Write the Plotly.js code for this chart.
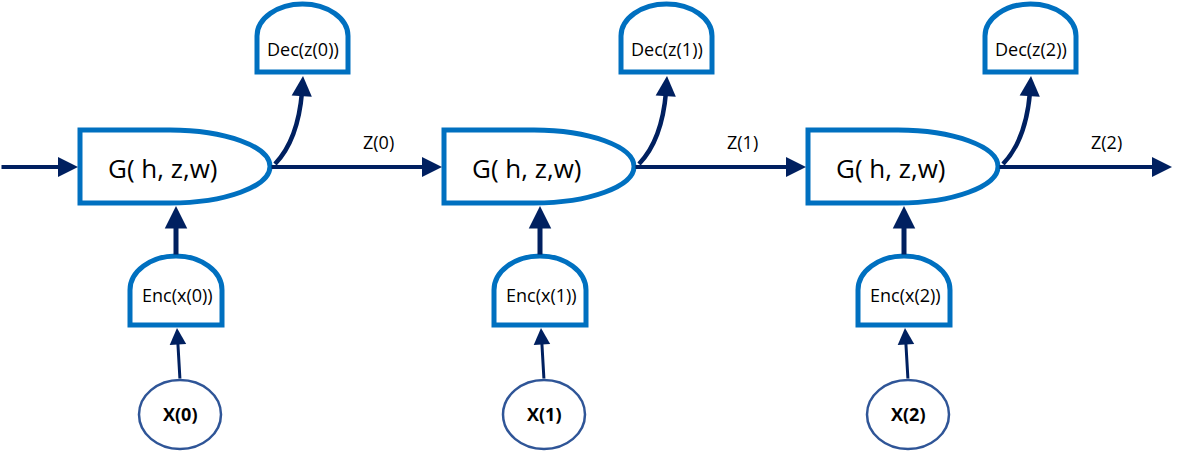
<!DOCTYPE html>
<html><head><meta charset="utf-8">
<script src="https://cdn.plot.ly/plotly-3.0.1.min.js"></script>
<style>html,body{margin:0;padding:0;background:#fff}#chart{width:1192px;height:451px}</style>
</head><body><div id="chart"></div>
<script>
/* diagram content */
const STEPS = [0, 1, 2];
const CELL_LABEL = 'G( h, z,w)';
const DEC_LABELS = ['Dec(z(0))', 'Dec(z(1))', 'Dec(z(2))'];
const ENC_LABELS = ['Enc(x(0))', 'Enc(x(1))', 'Enc(x(2))'];
const X_LABELS = ['X(0)', 'X(1)', 'X(2)'];
const Z_LABELS = ['Z(0)', 'Z(1)', 'Z(2)'];

const BOX = '#0070C0', ARROW = '#002060', CIRC = '#2F5597';
const STEP_W = 364;
const FONT = 'Open Sans, sans-serif';

const shapes = [], annotations = [];
function arrow(x0, y0, x1, y1, w, size) {
  annotations.push({ x: x1, y: y1, ax: x0, ay: y0, xref: 'x', yref: 'y', axref: 'x', ayref: 'y',
    text: '', showarrow: true, arrowhead: 2, arrowsize: size, arrowwidth: w, arrowcolor: ARROW });
}
function label(x, y, t, size, bold) {
  annotations.push({ x, y, xref: 'x', yref: 'y', text: bold ? '<b>' + t + '</b>' : t, showarrow: false,
    font: { family: FONT, size, color: '#000' } });
}
function dome(l, r, top, mid, bot) {
  const c = (l + r) / 2, k = 0.55;
  return `M ${l} ${bot} L ${l} ${mid} C ${l} ${mid - (mid - top) * k}, ${c - (c - l) * k} ${top}, ${c} ${top} ` +
         `C ${c + (r - c) * k} ${top}, ${r} ${mid - (mid - top) * k}, ${r} ${mid} L ${r} ${bot} Z`;
}

STEPS.forEach(i => {
  const o = i * STEP_W;
  // cell G
  const l = 80 + o, m = 170 + o, tip = 270 + o, t = 130, b = 203, cy = 166.5;
  shapes.push({ type: 'path', line: { color: BOX, width: 5 }, fillcolor: '#fff',
    path: `M ${l} ${t} L ${m} ${t} C ${m + 55} ${t}, ${tip} ${cy - 20}, ${tip} ${cy} C ${tip} ${cy + 20}, ${m + 55} ${b}, ${m} ${b} L ${l} ${b} Z` });
  label(162 + o, 168, CELL_LABEL, 26);
  // decoder
  shapes.push({ type: 'path', line: { color: BOX, width: 5 }, fillcolor: '#fff', path: dome(257 + o, 348 + o, 4, 36, 72) });
  label(303 + o, 49, DEC_LABELS[i], 18);
  // encoder
  shapes.push({ type: 'path', line: { color: BOX, width: 5 }, fillcolor: '#fff', path: dome(130 + o, 222 + o, 256, 290, 325) });
  label(177 + o, 295, ENC_LABELS[i], 18);
  // input circle
  shapes.push({ type: 'circle', xref: 'x', yref: 'y', x0: 139 + o, x1: 221 + o, y0: 380, y1: 449,
    line: { color: CIRC, width: 2.5 }, fillcolor: '#fff' });
  label(180 + o, 414, X_LABELS[i], 18, true);
  // arrows
  arrow(180 + o, 380, 177 + o, 328, 3, 1.1);
  arrow(176 + o, 256, 176 + o, 206, 5, 0.9);
  arrow((i === 0 ? 0 : 270 + o - STEP_W), 167, 80 + o - 2, 167, 4, 1);
  // curved arrow to decoder
  shapes.push({ type: 'path', line: { color: ARROW, width: 4.5 }, path: `M ${275 + o} 164 Q ${298 + o} 140, ${302 + o} 92` });
  arrow(302 + o, 92, 303 + o, 76, 4.5, 0.9);
  label(378 + o, 142, Z_LABELS[i], 18);
});
arrow(270 + 2 * STEP_W, 167, 1172, 167, 4, 1);

Plotly.newPlot('chart', [], {
  width: 1192, height: 451, margin: { l: 0, r: 0, t: 0, b: 0 },
  paper_bgcolor: '#fff', plot_bgcolor: '#fff', showlegend: false,
  xaxis: { range: [0, 1192], visible: false, fixedrange: true },
  yaxis: { range: [451, 0], visible: false, fixedrange: true },
  shapes, annotations
}, { displayModeBar: false, staticPlot: true });
</script></body></html>
